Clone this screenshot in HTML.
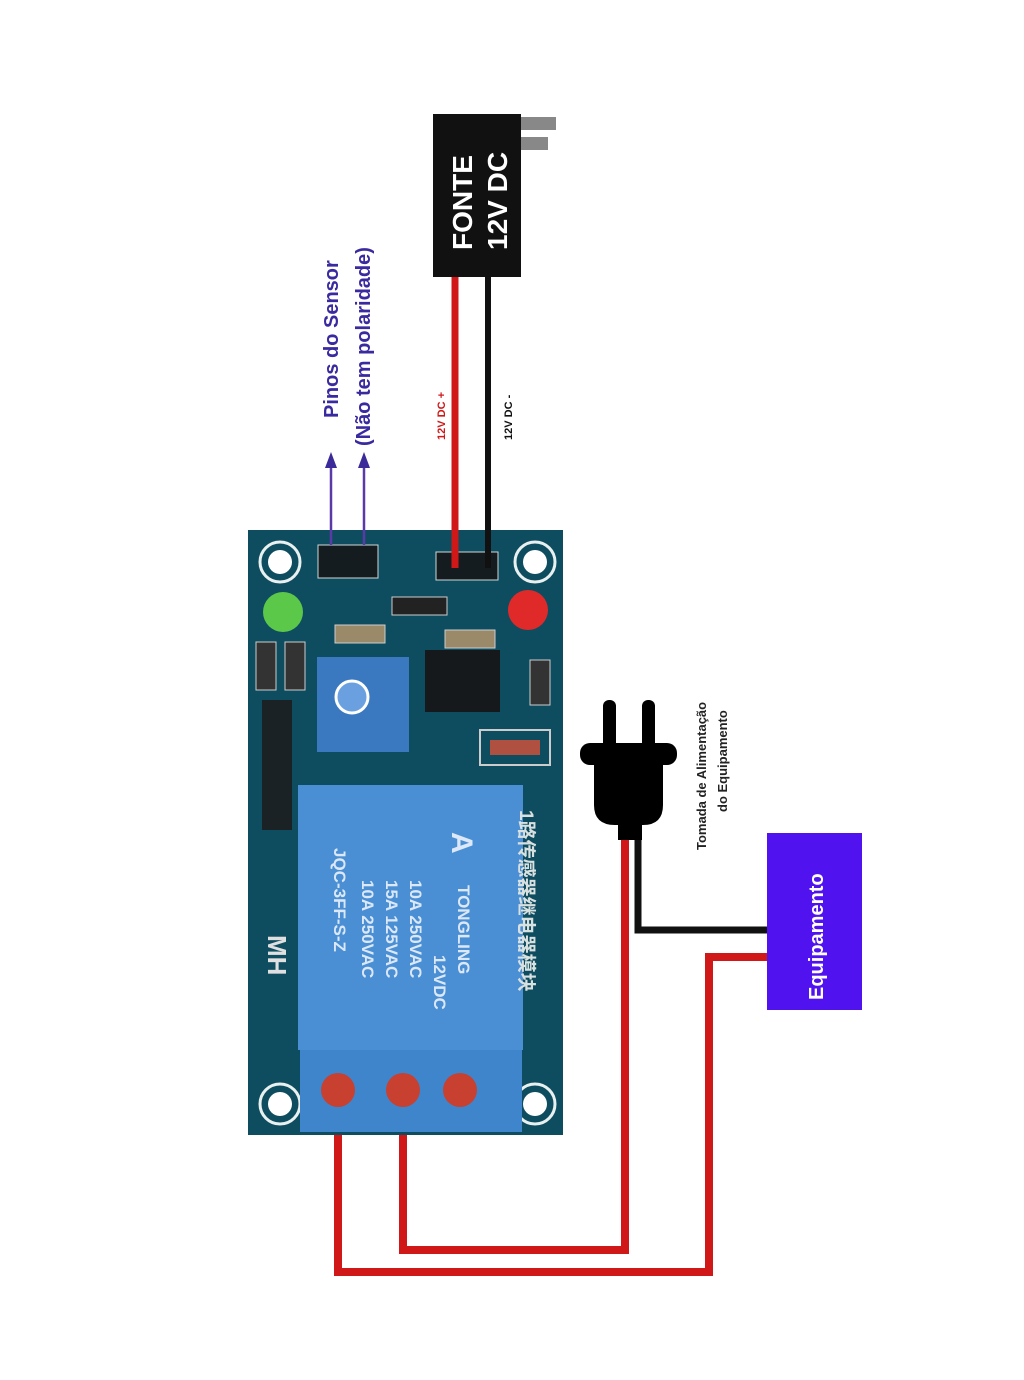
<!DOCTYPE html>
<html><head><meta charset="utf-8"><style>
html,body{margin:0;padding:0;background:#fff;}
svg{display:block;}
text{font-family:"Liberation Sans","Noto Sans CJK SC",sans-serif;font-weight:bold;}
</style></head><body>
<svg width="1024" height="1380" viewBox="0 0 1024 1380" xmlns="http://www.w3.org/2000/svg">
<rect width="1024" height="1380" fill="#fff"/>
<polyline points="338,1125 338,1272 709,1272 709,957 767,957" fill="none" stroke="#d01818" stroke-width="8"/>
<polyline points="403,1115 403,1250 625,1250 625,835" fill="none" stroke="#d01818" stroke-width="8"/>
<polyline points="638,835 638,930 767,930" fill="none" stroke="#111" stroke-width="7"/>
<rect x="248" y="530" width="315" height="605" fill="#0e4d5f"/>
<g fill="#0e4d5f" stroke="#e8f0f0" stroke-width="3">
<circle cx="280" cy="562" r="20"/><circle cx="535" cy="562" r="20"/>
<circle cx="280" cy="1104" r="20"/><circle cx="535" cy="1104" r="20"/>
</g>
<circle cx="280" cy="562" r="12" fill="#fff"/><circle cx="535" cy="562" r="12" fill="#fff"/>
<circle cx="280" cy="1104" r="12" fill="#fff"/><circle cx="535" cy="1104" r="12" fill="#fff"/>
<rect x="318" y="545" width="60" height="33" fill="#151c20" stroke="#cfd8d8" stroke-width="1"/>
<rect x="436" y="552" width="62" height="28" fill="#151c20" stroke="#cfd8d8" stroke-width="1"/>
<ellipse cx="283" cy="612" rx="20" ry="20" fill="#5cc84a"/>
<ellipse cx="528" cy="610" rx="20" ry="20" fill="#e02a2a"/>
<rect x="392" y="597" width="55" height="18" fill="#222" stroke="#ccc"/>
<rect x="335" y="625" width="50" height="18" fill="#9a8a6a" stroke="#ccc"/>
<rect x="445" y="630" width="50" height="18" fill="#9a8a6a" stroke="#ccc"/>
<rect x="256" y="642" width="20" height="48" fill="#333" stroke="#ccc"/>
<rect x="285" y="642" width="20" height="48" fill="#333" stroke="#ccc"/>
<rect x="530" y="660" width="20" height="45" fill="#333" stroke="#ccc"/>
<rect x="317" y="657" width="92" height="95" fill="#3a78c0"/>
<circle cx="352" cy="697" r="16" fill="#6aa0e0" stroke="#fff" stroke-width="3"/>
<rect x="425" y="650" width="75" height="62" fill="#15191c"/>
<rect x="480" y="730" width="70" height="35" fill="none" stroke="#ccc" stroke-width="2"/>
<rect x="490" y="740" width="50" height="15" fill="#b05040"/>
<rect x="262" y="700" width="30" height="130" fill="#1a2226"/>
<rect x="298" y="785" width="225" height="265" fill="#4a8fd4"/>
<g fill="#dce8f8" font-size="17">
<text transform="translate(458,885) rotate(90)">TONGLING</text>
<text transform="translate(434,955) rotate(90)">12VDC</text>
<text transform="translate(410,880) rotate(90)">10A 250VAC</text>
<text transform="translate(386,880) rotate(90)">15A 125VAC</text>
<text transform="translate(362,880) rotate(90)">10A 250VAC</text>
<text transform="translate(334,848) rotate(90)">JQC-3FF-S-Z</text>
<text transform="translate(452,832) rotate(90)" font-size="30">A</text>
</g>
<text transform="translate(520,810) rotate(90)" fill="#d8e0e0" font-size="19">1路传感器继电器模块</text>
<text transform="translate(268,935) rotate(90)" fill="#e0e0e0" font-size="26" font-family="Liberation Serif">MH</text>
<rect x="300" y="1050" width="222" height="82" fill="#3f85cc"/>
<circle cx="338" cy="1090" r="17" fill="#c84030"/>
<circle cx="403" cy="1090" r="17" fill="#c84030"/>
<circle cx="460" cy="1090" r="17" fill="#c84030"/>
<line x1="455" y1="275" x2="455" y2="568" stroke="#d01818" stroke-width="7"/>
<line x1="488" y1="275" x2="488" y2="568" stroke="#111" stroke-width="6"/>
<rect x="520" y="117" width="36" height="13" fill="#888"/>
<rect x="520" y="137" width="28" height="13" fill="#888"/>
<rect x="433" y="114" width="88" height="163" fill="#111"/>
<text transform="translate(472,250) rotate(-90)" fill="#fff" font-size="28">FONTE</text>
<text transform="translate(507,250) rotate(-90)" fill="#fff" font-size="28">12V DC</text>
<text transform="translate(445,440) rotate(-90)" fill="#d01818" font-size="11">12V DC +</text>
<text transform="translate(512,440) rotate(-90)" fill="#111" font-size="11">12V DC -</text>
<g stroke="#5a3aa8" stroke-width="2.5">
<line x1="331" y1="545" x2="331" y2="465"/><line x1="364" y1="545" x2="364" y2="465"/>
</g>
<polygon points="331,452 325,468 337,468" fill="#3a2a9a"/>
<polygon points="364,452 358,468 370,468" fill="#3a2a9a"/>
<text transform="translate(338,418) rotate(-90)" fill="#3a2aa0" font-size="20">Pinos do Sensor</text>
<text transform="translate(370,446) rotate(-90)" fill="#3a2aa0" font-size="20">(Não tem polaridade)</text>
<rect x="603" y="700" width="13" height="50" rx="6" fill="#000"/>
<rect x="642" y="700" width="13" height="50" rx="6" fill="#000"/>
<rect x="580" y="743" width="97" height="22" rx="10" fill="#000"/>
<path d="M594,760 H663 V805 Q663,825 643,825 H615 Q594,825 594,805 Z" fill="#000"/>
<rect x="618" y="820" width="24" height="20" fill="#000"/>
<text transform="translate(706,850) rotate(-90)" fill="#222" font-size="13">Tomada de Alimentação</text>
<text transform="translate(727,812) rotate(-90)" fill="#222" font-size="13">do Equipamento</text>
<rect x="767" y="833" width="95" height="177" fill="#5012ee"/>
<text transform="translate(823,1000) rotate(-90)" fill="#fff" font-size="20">Equipamento</text>
</svg>
</body></html>
